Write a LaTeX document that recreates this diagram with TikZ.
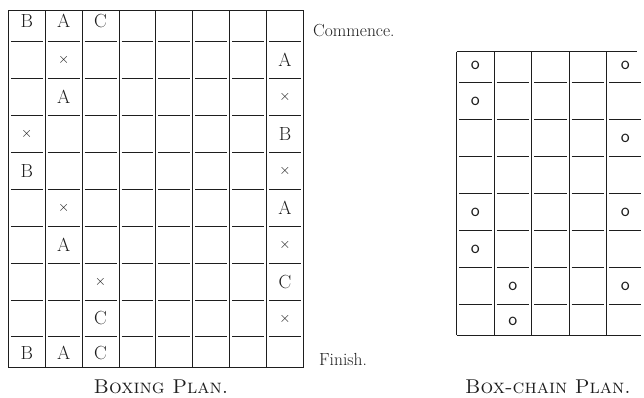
\documentclass[tikz,border=0pt]{standalone}
\usepackage{tikz}
\usetikzlibrary{positioning,calc}
\definecolor{ink}{HTML}{1E1E1E}

\begin{document}
\begin{tikzpicture}[x=1pt,y=-1pt,
  rule/.style={draw=ink,line width=0.9pt},
  letter/.style={font=\fontsize{19}{19}\selectfont,text=ink,inner sep=0pt},
  cross/.style={font=\fontsize{15}{15}\selectfont,text=ink,inner sep=0pt},
  ring/.style={font=\fontsize{19}{19}\sffamily\selectfont,text=ink,inner sep=0pt},
  note/.style={font=\fontsize{17.5}{17.5}\selectfont,text=ink,anchor=base west,inner sep=0pt},
  caption/.style={font=\fontsize{20}{20}\scshape\selectfont,text=ink,anchor=base,inner sep=0pt}]
\useasboundingbox (0,0) rectangle (644,397);
% boxing plan: 8 columns, 10 rows
\draw[rule] (8.3,10) -- (303.5,10);
\draw[rule] (8.3,367) -- (303.5,367);
\foreach \i in {0,...,8} \draw[rule] ({8.3+36.9*\i},10) -- ({8.3+36.9*\i},367);
\foreach \j in {0,...,8} \foreach \i in {0,...,7}
  \draw[rule] ({8.3+36.9*\i+2.5},{41.7+36.9*\j}) -- ({8.3+36.9*(\i+1)-2.5},{41.7+36.9*\j});
\foreach \c/\r/\t in {1/1/B,2/1/A,3/1/C,8/2/A,2/3/A,8/4/B,1/5/B,8/6/A,2/7/A,8/8/C,3/9/C,1/10/B,2/10/A,3/10/C}{
  \pgfmathsetmacro\yy{\r==1 ? 21 : (\r==10 ? 353 : 60.15+36.9*(\r-2))}
  \node[letter] (bx-\c-\r) at ({8.3+36.9*(\c-0.5)},\yy) {\t};}
\foreach \c/\r in {2/2,8/3,1/4,8/5,2/6,8/7,3/8,8/9}{
  \pgfmathsetmacro\yy{60.15+36.9*(\r-2)}
  \node[cross] (bx-\c-\r) at ({8.3+36.9*(\c-0.5)},\yy) {$\times$};}
\node[note] (start) at (313,36) {Commence.};
\node[note] (finish) at (319,365) {Finish.};
\node[caption] (boxcap) at (161,393) {Boxing Plan.};
% box-chain plan: 5 columns, 8 rows, open at the right
\draw[rule] (456.7,51.7) -- (637,51.7);
\draw[rule] (456.7,335) -- (641,335);
\foreach \i in {0,...,4} \draw[rule] ({456.7+37.5*\i},51.7) -- ({456.7+37.5*\i},335);
\foreach \j in {0,...,6} \foreach \i in {0,...,4}
  \draw[rule] ({456.7+37.5*\i+2.5},{82.7+37*\j}) -- ({min(456.7+37.5*(\i+1)-2.5,641)},{82.7+37*\j});
\foreach \c/\r in {1/1,5/1,1/2,5/3,1/5,5/5,1/6,2/7,5/7,2/8}{
  \pgfmathsetmacro\yy{\r==1 ? 65 : (\r==8 ? 321 : 101.2+37*(\r-2))}
  \node[ring] (ch-\c-\r) at ({456.7+37.5*(\c-0.5)},\yy) {o};}
\node[caption] (chaincap) at (548,393) {Box-chain Plan.};
\end{tikzpicture}
\end{document}
